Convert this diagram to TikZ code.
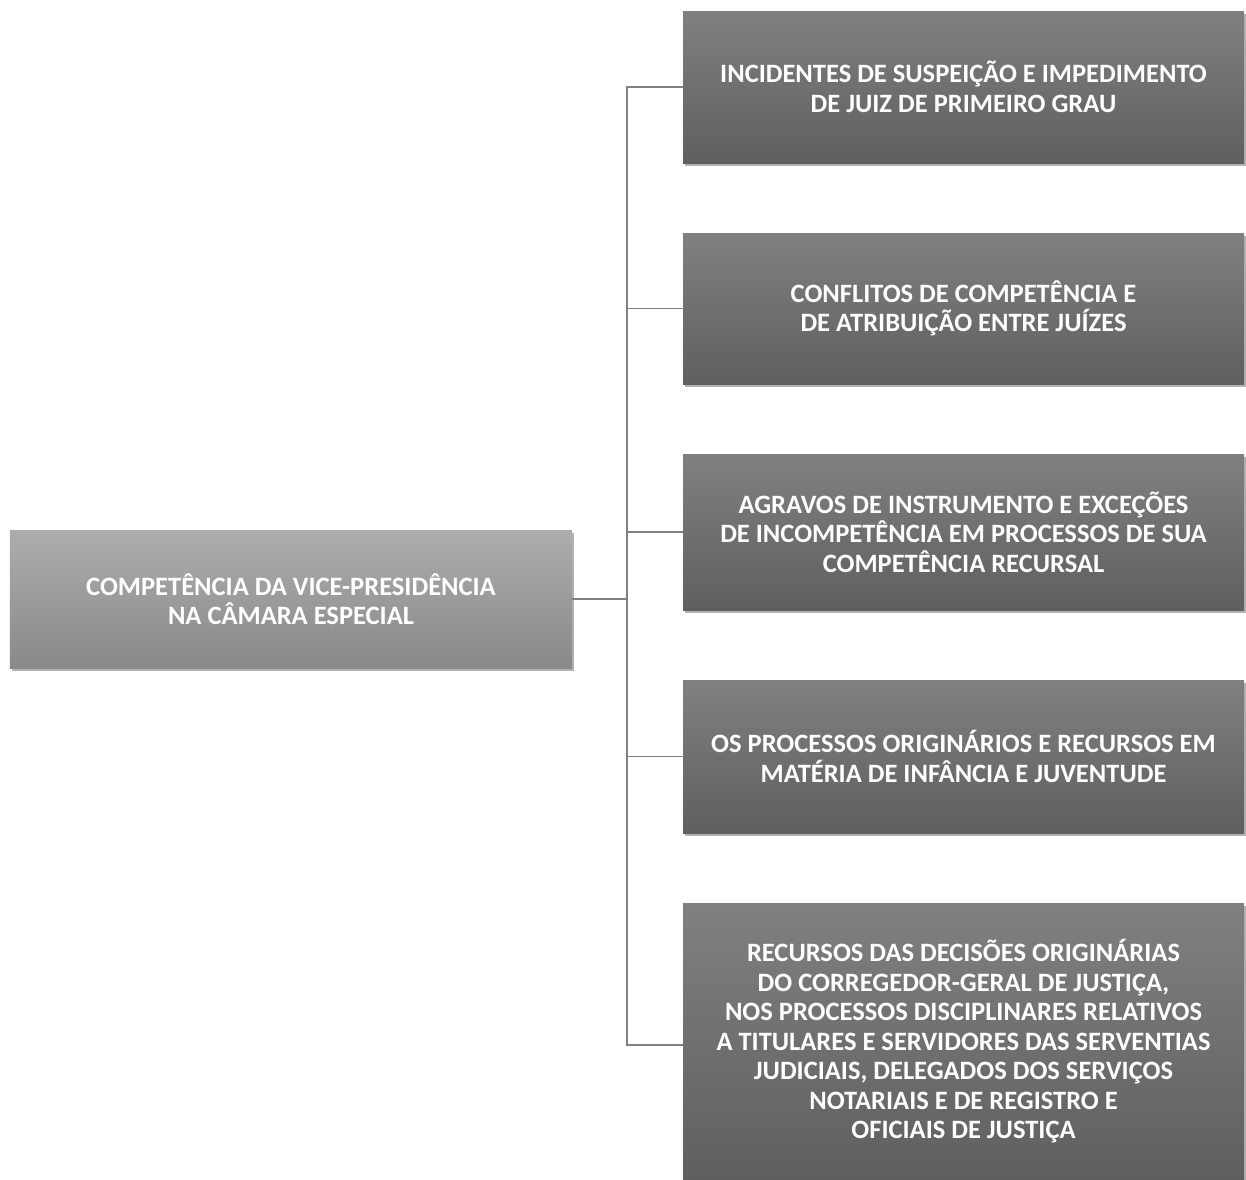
\documentclass[tikz,border=0pt]{standalone}
\usepackage{fontspec}
\setmainfont{Carlito}
\usetikzlibrary{shadows}
\definecolor{ltop}{HTML}{ADADAD}
\definecolor{lbot}{HTML}{898989}
\definecolor{rtop}{HTML}{808080}
\definecolor{rbot}{HTML}{5F5F5F}
\definecolor{conn}{HTML}{808080}
\begin{document}
\begin{tikzpicture}[x=1bp,y=-1bp,
  box/.style={rectangle, inner sep=0pt, minimum width=561bp, text=white,
    font=\bfseries\fontsize{26.6}{29.6}\selectfont, align=center,
    drop shadow={shadow xshift=2bp, shadow yshift=-3bp, opacity=0.3, fill=black}},
  rbox/.style={box, top color=rtop, bottom color=rbot},
  lbox/.style={box, top color=ltop, bottom color=lbot},
  link/.style={draw=conn, line width=1.8bp}]
\useasboundingbox (0,0) rectangle (1246,1180);
\node[lbox, minimum width=562bp, minimum height=138bp] (L) at (291,599)
  {COMPETÊNCIA DA VICE-PRESIDÊNCIA\\NA CÂMARA ESPECIAL};
\node[rbox, minimum height=152bp] (b1) at (963.5,87)
  {INCIDENTES DE SUSPEIÇÃO E IMPEDIMENTO\\DE JUIZ DE PRIMEIRO GRAU};
\node[rbox, minimum height=151bp] (b2) at (963.5,308.5)
  {CONFLITOS DE COMPETÊNCIA E\\DE ATRIBUIÇÃO ENTRE JUÍZES};
\node[rbox, minimum height=156bp] (b3) at (963.5,532)
  {AGRAVOS DE INSTRUMENTO E EXCEÇÕES\\DE INCOMPETÊNCIA EM PROCESSOS DE SUA\\COMPETÊNCIA RECURSAL};
\node[rbox, minimum height=153bp] (b4) at (963.5,756.5)
  {OS PROCESSOS ORIGINÁRIOS E RECURSOS EM\\MATÉRIA DE INFÂNCIA E JUVENTUDE};
\node[rbox, minimum height=277bp] (b5) at (963.5,1041.5)
  {RECURSOS DAS DECISÕES ORIGINÁRIAS\\DO CORREGEDOR-GERAL DE JUSTIÇA,\\NOS PROCESSOS DISCIPLINARES RELATIVOS\\A TITULARES E SERVIDORES DAS SERVENTIAS\\JUDICIAIS, DELEGADOS DOS SERVIÇOS\\NOTARIAIS E DE REGISTRO E\\OFICIAIS DE JUSTIÇA};
\coordinate (j) at (627,599);
\coordinate (j5) at (627,1045);
\draw[link] (L.east) -- (j);
\draw[link] (b1.west) -| (j5) -- ([yshift=-3.5bp]b5.west);
\draw[link] (j |- b2.west) -- (b2.west);
\draw[link] (j |- b3.west) -- (b3.west);
\draw[link] (j |- b4.west) -- (b4.west);
\end{tikzpicture}
\end{document}
